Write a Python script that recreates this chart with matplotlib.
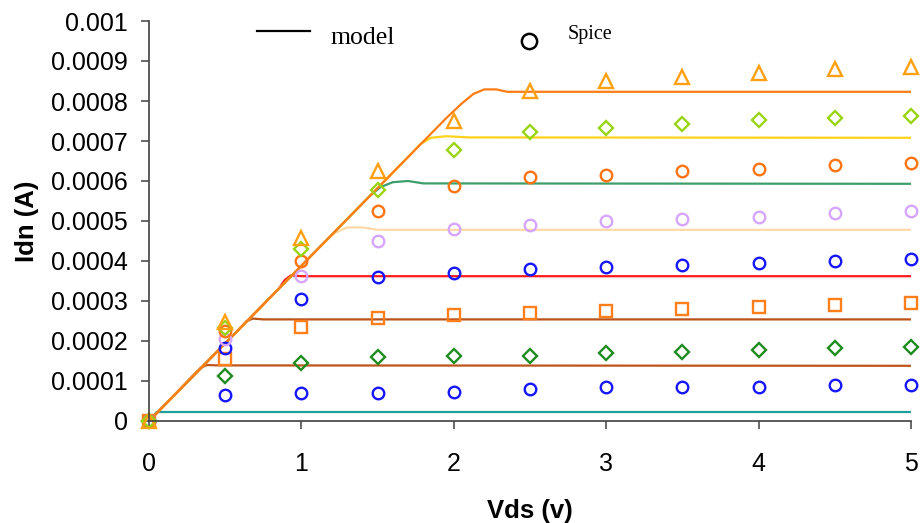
import matplotlib
matplotlib.use("Agg")
import matplotlib.pyplot as plt
from matplotlib.lines import Line2D
import numpy as np

# model curves: (Vds, Idn) points along each gate-voltage trace
model_teal_x = [0, 0.05, 5]
model_teal_y = [0, 0.0000225, 0.0000225]
model_brown1_x = [0, 0.30, 0.34, 0.38, 0.45, 5]
model_brown1_y = [0, 0.000118, 0.000133, 0.000140, 0.000139, 0.000138]
model_brown2_x = [0, 0.60, 0.64, 0.68, 0.75, 5]
model_brown2_y = [0, 0.000233, 0.000249, 0.000256, 0.000254, 0.000254]
model_red_x = [0, 0.85, 0.89, 0.93, 1.00, 5]
model_red_y = [0, 0.000330, 0.000352, 0.000364, 0.000362, 0.000362]
model_peach_x = [0, 1.15, 1.22, 1.30, 1.40, 1.50, 5]
model_peach_y = [0, 0.000446, 0.000470, 0.000484, 0.000484, 0.000478, 0.000478]
model_green_x = [0, 1.45, 1.52, 1.60, 1.70, 1.80, 5]
model_green_y = [0, 0.000563, 0.000585, 0.000597, 0.000600, 0.000594, 0.000593]
model_yellow_x = [0, 1.70, 1.78, 1.85, 1.95, 2.10, 5]
model_yellow_y = [0, 0.000660, 0.000692, 0.000708, 0.000712, 0.000709, 0.000708]
model_orange_x = [0, 1.95, 2.05, 2.13, 2.20, 2.28, 2.35, 5]
model_orange_y = [0, 0.000757, 0.000793, 0.000818, 0.000829, 0.000829, 0.000823, 0.000823]

# spice simulation points
vds = [0, 0.5, 1, 1.5, 2, 2.5, 3, 3.5, 4, 4.5, 5]
spice_blue_low = [0, 0.000066, 0.000071, 0.000070, 0.000073, 0.000079, 0.000085, 0.000085, 0.000085, 0.000091, 0.000091]
spice_green_dia = [0, 0.000112, 0.000146, 0.000160, 0.000163, 0.000163, 0.000170, 0.000172, 0.000177, 0.000183, 0.000186]
spice_square = [0, 0.000154, 0.000236, 0.000257, 0.000265, 0.000271, 0.000276, 0.000281, 0.000285, 0.000290, 0.000296]
spice_blue = [0, 0.000183, 0.000304, 0.000360, 0.000371, 0.000379, 0.000384, 0.000390, 0.000396, 0.000400, 0.000405]
spice_lavender = [0, 0.000205, 0.000362, 0.000450, 0.000479, 0.000490, 0.000500, 0.000505, 0.000510, 0.000519, 0.000525]
spice_orange_circ = [0, 0.000225, 0.000400, 0.000524, 0.000588, 0.000610, 0.000615, 0.000625, 0.000630, 0.000639, 0.000645]
spice_yg_dia = [0, 0.000232, 0.000429, 0.000578, 0.000677, 0.000722, 0.000733, 0.000742, 0.000752, 0.000757, 0.000762]
spice_triangle = [0, 0.000248, 0.000457, 0.000626, 0.000750, 0.000826, 0.000851, 0.000860, 0.000871, 0.000880, 0.000886]

x_ticks = [0, 1, 2, 3, 4, 5]
y_ticks = np.arange(0, 0.00105, 0.0001)

fig = plt.figure(figsize=(9.21, 5.23), dpi=100)
ax = fig.add_axes([149 / 921, 102 / 523, 762 / 921, 400 / 523])

models = [
    (model_teal_x, model_teal_y, "#1f9e9e"),
    (model_brown1_x, model_brown1_y, "#bf5418"),
    (model_brown2_x, model_brown2_y, "#bb5218"),
    (model_red_x, model_red_y, "#ff1a1a"),
    (model_peach_x, model_peach_y, "#ffd9a6"),
    (model_green_x, model_green_y, "#3d9e6a"),
    (model_yellow_x, model_yellow_y, "#ffd21a"),
    (model_orange_x, model_orange_y, "#ff7b14"),
]
for mx, my, c in models:
    ax.plot(mx, my, "-", color=c, lw=1.6, solid_joinstyle="round")

spice = [
    (spice_blue_low, "o", "#1717ff", 8.3),
    (spice_green_dia, "D", "#1e8c1e", 7.3),
    (spice_square, "s", "#ff7f1a", 8.0),
    (spice_blue, "o", "#1717ff", 8.3),
    (spice_lavender, "o", "#d6a6ff", 8.3),
    (spice_orange_circ, "o", "#ff7412", 8.3),
    (spice_yg_dia, "D", "#99d414", 7.3),
    (spice_triangle, "^", "#ffa012", 10),
]
for sy, m, c, ms in spice:
    ax.plot(vds, sy, m, ls="none", mfc="none", mec=c, mew=1.7, ms=ms, clip_on=False)

ax.set_xlim(0, 5)
ax.set_ylim(0, 0.001)
ax.set_xticks(x_ticks)
ax.set_xticklabels([str(v) for v in x_ticks])
ax.set_yticks(y_ticks)
ax.set_yticklabels([f"{v:g}" for v in y_ticks])

for side in ["top", "right"]:
    ax.spines[side].set_visible(False)
for side in ["left", "bottom"]:
    ax.spines[side].set_color("#404040")
    ax.spines[side].set_linewidth(1.2)
ax.tick_params(axis="both", direction="out", length=6, width=1.1, color="#404040",
               labelsize=18, labelcolor="black")
ax.tick_params(axis="x", pad=16)
ax.tick_params(axis="y", pad=9)
for lab in ax.get_xticklabels() + ax.get_yticklabels():
    lab.set_family("Liberation Sans")

ax.set_xlabel("Vds (v)", fontsize=18.5, fontweight="bold", family="Liberation Sans", labelpad=17)
ax.set_ylabel("Idn (A)", fontsize=18.5, fontweight="bold", family="Liberation Sans", labelpad=9)

# legend drawn in figure coordinates
fig.add_artist(Line2D([257 / 921, 310 / 921], [1 - 31 / 523, 1 - 31 / 523],
                      color="black", lw=1.6, transform=fig.transFigure))
fig.text(330 / 921, 1 - 38 / 523, "model", family="Liberation Serif", fontsize=18.5,
         va="center", ha="left")
fig.add_artist(Line2D([529 / 921], [1 - 41 / 523], marker="o", ms=11, mfc="none",
                      mec="black", mew=1.8, transform=fig.transFigure))
fig.text(568 / 921, 1 - 34 / 523, "Spice", family="Liberation Serif", fontsize=14.5,
         va="center", ha="left")

fig.savefig("out.png", dpi=100)
